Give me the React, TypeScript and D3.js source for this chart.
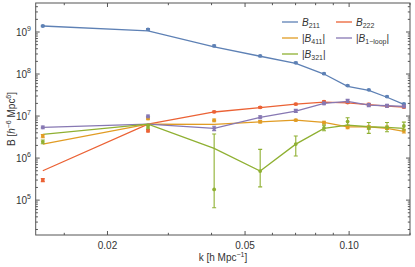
import React from "react";
import * as d3 from "d3";

// k bins [h/Mpc]
const kBins = [0.013, 0.0262, 0.0407, 0.0553, 0.0701, 0.0846, 0.099, 0.114, 0.1287, 0.144];

// theory curves
const b211Line = [1.39e9, 1.06e9, 4.45e8, 2.65e8, 1.8e8, 1.0e8, 5.1e7, 4.1e7, 2.8e7, 1.9e7];
const b222Line = [5.0e5, 6.45e6, 1.25e7, 1.59e7, 1.93e7, 2.15e7, 2.07e7, 1.88e7, 1.73e7, 1.64e7];
const b411Line = [2.15e6, 6.45e6, 6.34e6, 7.3e6, 8.0e6, 7.1e6, 5.5e6, 5.5e6, 5.1e6, 4.3e6];
const b1loopLine = [5.38e6, 6.45e6, 5.1e6, 9.3e6, 1.31e7, 2.0e7, 2.24e7, 1.83e7, 1.76e7, 1.7e7];
const b321Line = [3.67e6, 6.45e6, 1.7e6, 4.9e5, 2.15e6, 5.1e6, 6.1e6, 5.56e6, 5.38e6, 5.1e6];

// measurements with error bars
const b211Data = [1.39e9, 1.16e9, 4.7e8, 2.7e8, 1.85e8, 1.02e8, 5.3e7, 4.2e7, 2.9e7, 1.95e7];
const b211Lo = [1.34e9, 1.11e9, 4.5e8, 2.6e8, 1.78e8, 9.8e7, 5.1e7, 4.05e7, 2.8e7, 1.88e7];
const b211Hi = [1.44e9, 1.21e9, 4.9e8, 2.8e8, 1.92e8, 1.06e8, 5.5e7, 4.35e7, 3.0e7, 2.02e7];

const b222Data = [3.0e5, 4.47e6, 1.26e7, 1.61e7, 1.93e7, 2.2e7, 2.1e7, 1.9e7, 1.73e7, 1.64e7];
const b222Lo = [2.75e5, 4.2e6, 1.2e7, 1.54e7, 1.85e7, 2.1e7, 2.0e7, 1.8e7, 1.65e7, 1.56e7];
const b222Hi = [3.25e5, 4.75e6, 1.32e7, 1.68e7, 2.02e7, 2.3e7, 2.2e7, 2.0e7, 1.81e7, 1.72e7];

const b411Data = [3.34e6, 8.8e6, 7.9e6, 7.35e6, 8.0e6, 7.0e6, 5.4e6, 5.4e6, 5.3e6, 4.4e6];
const b411Lo = [3.05e6, 8.2e6, 7.3e6, 6.9e6, 7.6e6, 6.5e6, 5.0e6, 4.9e6, 4.8e6, 3.95e6];
const b411Hi = [3.65e6, 9.4e6, 8.5e6, 7.8e6, 8.4e6, 7.5e6, 5.8e6, 5.9e6, 5.8e6, 4.85e6];

const b1loopData = [5.38e6, 9.85e6, 5.1e6, 9.4e6, 1.33e7, 2.0e7, 2.3e7, 1.83e7, 1.76e7, 1.7e7];
const b1loopLo = [5.0e6, 9.1e6, 4.5e6, 8.6e6, 1.22e7, 1.86e7, 2.1e7, 1.68e7, 1.62e7, 1.58e7];
const b1loopHi = [5.8e6, 1.06e7, 5.7e6, 1.02e7, 1.44e7, 2.14e7, 2.5e7, 1.98e7, 1.9e7, 1.82e7];

const b321Data = [2.44e6, 5.5e6, 1.8e5, 4.9e5, 2.15e6, 5.2e6, 7.4e6, 5.2e6, 5.4e6, 5.8e6];
const b321Lo = [2.2e6, 5.0e6, 6.56e4, 2.07e5, 1.12e6, 4.47e6, 6.1e6, 3.87e6, 4.23e6, 4.64e6];
const b321Hi = [2.7e6, 6.0e6, 3.73e6, 1.61e6, 3.34e6, 6.1e6, 9.1e6, 7.0e6, 7.0e6, 7.17e6];

const xMajor = [0.02, 0.05, 0.1];
const xMajorLabels = ["0.02", "0.05", "0.10"];
const xMinor = [0.015, 0.03, 0.04, 0.06, 0.07, 0.08, 0.09, 0.15];
const yExponents = [5, 6, 7, 8, 9];

const series = [
  { name: "B211", color: "#5E81B5", line: b211Line, data: b211Data, lo: b211Lo, hi: b211Hi },
  { name: "B222", color: "#EB6235", line: b222Line, data: b222Data, lo: b222Lo, hi: b222Hi },
  { name: "B411", color: "#E19C24", line: b411Line, data: b411Data, lo: b411Lo, hi: b411Hi },
  { name: "B1loop", color: "#8778B3", line: b1loopLine, data: b1loopData, lo: b1loopLo, hi: b1loopHi },
  { name: "B321", color: "#8FB032", line: b321Line, data: b321Data, lo: b321Lo, hi: b321Hi },
];

const W = 415;
const H = 267;
const left = 35.7;
const right = 410;
const top = 3;
const bottom = 235;
const frameColor = "#555";
const font = "'Liberation Sans', Arial, sans-serif";

function App() {
  const x = d3.scaleLog().domain([0.0124, 0.15]).range([left, right]);
  const y = d3.scaleLog().domain([Math.pow(10, 4.17), Math.pow(10, 9.69)]).range([bottom, top]);

  const line = d3
    .line<number>()
    .x((_, i) => x(kBins[i]))
    .y((d) => y(d));

  // log minor ticks on y
  const yMinor: number[] = [];
  for (let e = 4; e <= 9; e++) {
    for (let m = 2; m <= 9; m++) {
      const v = m * Math.pow(10, e);
      if (y(v) >= top && y(v) <= bottom) yMinor.push(v);
    }
  }

  const legend = [
    { color: "#5E81B5", col: 0, row: 0, pre: "", sub: "211", post: "" },
    { color: "#EB6235", col: 1, row: 0, pre: "", sub: "222", post: "" },
    { color: "#E19C24", col: 0, row: 1, pre: "|", sub: "411", post: "|" },
    { color: "#8778B3", col: 1, row: 1, pre: "|", sub: "1\u2212loop", post: "|" },
    { color: "#8FB032", col: 0, row: 2, pre: "|", sub: "321", post: "|" },
  ];

  return (
    <svg width={W} height={H} style={{ position: "absolute", left: 0, top: 0 }} fontFamily={font}>
      <rect width={W} height={H} fill="#fff" />
      <defs>
        <clipPath id="plot">
          <rect x={left} y={top} width={right - left} height={bottom - top} />
        </clipPath>
      </defs>

      <g clipPath="url(#plot)">
        {series.map((s) => (
          <path key={s.name} d={line(s.line) || ""} fill="none" stroke={s.color} strokeWidth={1.3} />
        ))}
        {series.map((s) => (
          <g key={s.name + "pts"} stroke={s.color} fill={s.color}>
            {s.data.map((v, i) => {
              const cx = x(kBins[i]);
              const y0 = y(s.lo[i]);
              const y1 = y(s.hi[i]);
              return (
                <g key={i}>
                  <line x1={cx} x2={cx} y1={y0} y2={y1} strokeWidth={1.1} />
                  <line x1={cx - 2} x2={cx + 2} y1={y0} y2={y0} strokeWidth={1.1} />
                  <line x1={cx - 2} x2={cx + 2} y1={y1} y2={y1} strokeWidth={1.1} />
                  <circle cx={cx} cy={y(v)} r={1.9} stroke="none" />
                </g>
              );
            })}
          </g>
        ))}
      </g>

      {/* frame */}
      <rect x={left} y={top} width={right - left} height={bottom - top} fill="none" stroke={frameColor} strokeWidth={1} />

      {/* x ticks */}
      {xMajor.map((t, i) => (
        <g key={"xm" + t}>
          <line x1={x(t)} x2={x(t)} y1={bottom} y2={bottom - 4} stroke={frameColor} />
          <line x1={x(t)} x2={x(t)} y1={top} y2={top + 4} stroke={frameColor} />
          <text x={x(t)} y={bottom + 14} fontSize={10} textAnchor="middle" fill="#333">
            {xMajorLabels[i]}
          </text>
        </g>
      ))}
      {xMinor.map((t) => (
        <g key={"xn" + t}>
          <line x1={x(t)} x2={x(t)} y1={bottom} y2={bottom - 2.2} stroke={frameColor} />
          <line x1={x(t)} x2={x(t)} y1={top} y2={top + 2.2} stroke={frameColor} />
        </g>
      ))}

      {/* y ticks */}
      {yExponents.map((e) => {
        const yy = y(Math.pow(10, e));
        return (
          <g key={"ym" + e}>
            <line x1={left} x2={left + 4} y1={yy} y2={yy} stroke={frameColor} />
            <line x1={right} x2={right - 4} y1={yy} y2={yy} stroke={frameColor} />
            <text x={31} y={yy + 3.5} fontSize={10} textAnchor="end" fill="#333">
              10
              <tspan fontSize={7} dy={-4.5}>
                {e}
              </tspan>
            </text>
          </g>
        );
      })}
      {yMinor.map((v) => (
        <g key={"yn" + v}>
          <line x1={left} x2={left + 2.2} y1={y(v)} y2={y(v)} stroke={frameColor} />
          <line x1={right} x2={right - 2.2} y1={y(v)} y2={y(v)} stroke={frameColor} />
        </g>
      ))}

      {/* axis labels */}
      <text x={223} y={261} fontSize={10} textAnchor="middle" fill="#333">
        k [h Mpc
        <tspan fontSize={7} dy={-4}>
          −1
        </tspan>
        <tspan dy={4}>]</tspan>
      </text>
      <text transform={`translate(15,119) rotate(-90)`} fontSize={10} textAnchor="middle" fill="#333">
        B [
        <tspan fontStyle="italic">h</tspan>
        <tspan fontSize={7} dy={-4}>
          −6
        </tspan>
        <tspan dy={4}> Mpc</tspan>
        <tspan fontSize={7} dy={-4}>
          6
        </tspan>
        <tspan dy={4}>]</tspan>
      </text>

      {/* legend */}
      {legend.map((l) => {
        const lx = 282 + l.col * 54;
        const ly = 22 + l.row * 16;
        return (
          <g key={l.sub}>
            <line x1={lx} x2={lx + 16} y1={ly} y2={ly} stroke={l.color} strokeWidth={1.3} />
            <text x={lx + 20} y={ly + 3.5} fontSize={10} fill="#333">
              {l.pre}
              <tspan fontStyle="italic">B</tspan>
              <tspan fontSize={7} dy={2.5}>
                {l.sub}
              </tspan>
              <tspan dy={-2.5}>{l.post}</tspan>
            </text>
          </g>
        );
      })}
    </svg>
  );
}

export default App;
